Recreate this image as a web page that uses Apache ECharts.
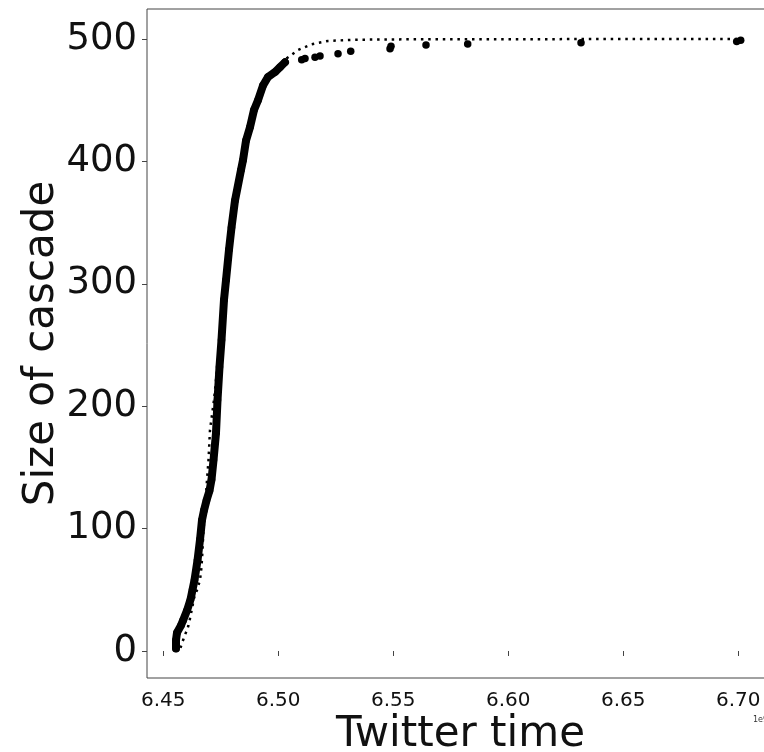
<!DOCTYPE html>
<html>
<head>
<meta charset="utf-8">
<script src="https://cdn.jsdelivr.net/npm/echarts@6/dist/echarts.min.js"></script>
<style>
  html, body { margin: 0; padding: 0; background: #ffffff; }
  #chart { width: 764px; height: 752px; }
</style>
</head>
<body>
<div id="chart"></div>
<script>
// Cascade growth: cumulative size against Twitter time (seconds, ×1e9)
const cascadeTime = [6.45552, 6.45552, 6.45596, 6.45770, 6.45857, 6.46030, 6.46183, 6.46270, 6.46357, 6.46487,
  6.46596, 6.46683, 6.46770, 6.46878, 6.47009, 6.47096, 6.47183, 6.47291, 6.47357, 6.47443,
  6.47530, 6.47639, 6.47726, 6.47857, 6.47965, 6.48117, 6.48378, 6.48465, 6.48596, 6.48770,
  6.48943, 6.49117, 6.49335, 6.49552, 6.49857, 6.50074, 6.50291,
  6.51017, 6.51161, 6.51596, 6.51813, 6.52596, 6.53148, 6.54857, 6.54900, 6.56422, 6.58235,
  6.63161, 6.69930, 6.70104];
const cascadeSize = [2, 9, 15, 21, 25, 33, 42, 50, 58, 74,
  91, 107, 115, 123, 131, 140, 156, 178, 205, 232,
  254, 287, 303, 328, 346, 368, 393, 401, 417, 428,
  442, 450, 462, 469, 473, 477, 481,
  483, 484, 485, 486, 488, 490, 492, 494, 495, 496,
  497, 498, 499];
// number of early retweets that arrive back to back (drawn as one dense stroke)
const denseCount = 37;

// Fitted growth curve
const fitTime = [6.45748, 6.45813, 6.45878, 6.45943, 6.46017, 6.46087, 6.46139, 6.46191, 6.46235, 6.46278,
  6.46335, 6.46465, 6.46596, 6.46661, 6.46704, 6.46739, 6.46813, 6.46900, 6.46965, 6.47030,
  6.47204, 6.47335, 6.47465, 6.47617, 6.47791, 6.47987, 6.48226, 6.48422, 6.48639, 6.48857,
  6.49117, 6.49378, 6.49683, 6.49987, 6.50365, 6.50857, 6.51452, 6.52161, 6.53335, 6.56161,
  6.70117];
const fitSize = [2.5, 6.5, 9.8, 13.1, 16.6, 20.4, 24.5, 29.4, 33.5, 37.6,
  43.3, 49.8, 58, 68.6, 82.5, 96.4, 115.2, 139.7, 156, 180.6,
  205, 229.6, 254, 286.8, 319.4, 352.1, 380.7, 401.1, 417.5, 432.2,
  446.9, 460, 469.8, 477.1, 484.2, 491, 495.7, 498.4, 499.4, 499.8,
  500];

const xTicks = [6.45, 6.50, 6.55, 6.60, 6.65, 6.70];
const yTicks = [0, 100, 200, 300, 400, 500];

const zip = (xs, ys) => xs.map((x, i) => [x, ys[i]]);
const cascadePts = zip(cascadeTime, cascadeSize);
const fitPts = zip(fitTime, fitSize);

const FONT = 'DejaVu Sans';
const INK = '#111111';
const SPINE = '#444444';
const chart = echarts.init(document.getElementById('chart'), null, { renderer: 'canvas' });

chart.setOption({
  animation: false,
  backgroundColor: '#ffffff',
  grid: {
    left: 147, top: 9, width: 627, height: 669,
    outerBoundsMode: 'none',
    show: true, borderColor: SPINE, borderWidth: 1,
    containLabel: false
  },
  xAxis: {
    type: 'value',
    min: 6.44291, max: 6.71552,
    splitLine: { show: false },
    axisLine: { show: false },
    axisTick: { show: true, length: 5, lineStyle: { color: SPINE }, customValues: xTicks },
    axisLabel: {
      show: true, customValues: xTicks, margin: 13,
      fontFamily: FONT, fontSize: 20, color: INK,
      formatter: v => v.toFixed(2)
    },
    name: 'Twitter time',
    nameLocation: 'middle',
    nameGap: 36,
    nameMoveOverlap: false,
    nameTextStyle: { fontFamily: FONT, fontSize: 42, color: INK, verticalAlign: 'top' }
  },
  yAxis: {
    type: 'value',
    min: -22.06, max: 524.5,
    splitLine: { show: false },
    axisLine: { show: false },
    axisTick: { show: true, length: 5, lineStyle: { color: SPINE }, customValues: yTicks },
    axisLabel: {
      show: true, customValues: yTicks, margin: 10,
      fontFamily: FONT, fontSize: 37, color: INK
    },
    name: 'Size of cascade',
    nameLocation: 'middle',
    nameGap: 84,
    nameMoveOverlap: false,
    nameTextStyle: { fontFamily: FONT, fontSize: 42, color: INK }
  },
  graphic: [{
    type: 'text', left: 753, top: 716, silent: true,
    style: { text: '1e9', font: '8px "DejaVu Sans"', fill: '#333333' }
  }],
  series: [
    {
      name: 'fit', type: 'line', data: fitPts, z: 1,
      symbol: 'none', smooth: false,
      lineStyle: { color: '#000000', width: 2.5, type: [2.5, 4.8], cap: 'butt' }
    },
    {
      name: 'cascade stroke', type: 'line', data: cascadePts.slice(0, denseCount), z: 2,
      symbol: 'none', smooth: false,
      lineStyle: { color: '#000000', width: 8, cap: 'round', join: 'round' }
    },
    {
      name: 'cascade', type: 'scatter', data: cascadePts, z: 3,
      symbol: 'circle', symbolSize: 7.5,
      itemStyle: { color: '#000000', opacity: 1 }
    }
  ]
});
</script>
</body>
</html>
